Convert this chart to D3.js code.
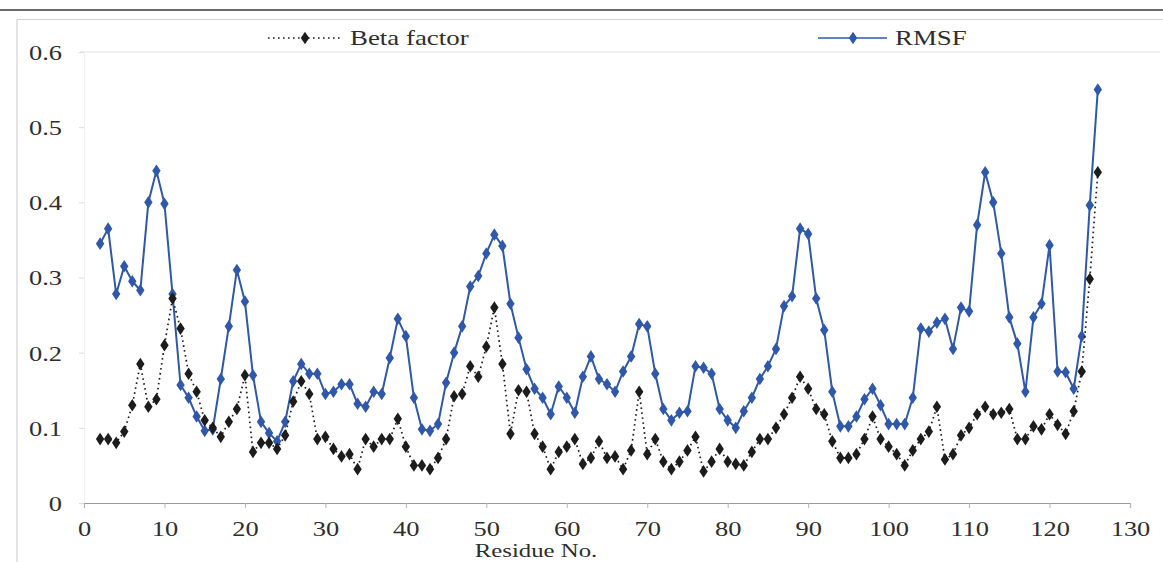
<!DOCTYPE html>
<html>
<head>
<meta charset="utf-8">
<script src="https://cdn.jsdelivr.net/npm/d3@7"></script>
<style>
  html, body { margin: 0; padding: 0; background: #ffffff; }
  svg { display: block; }
  text { font-family: "Liberation Serif", "Times New Roman", serif; fill: #2e2e2e; }
</style>
</head>
<body>
<svg id="chart" width="1163" height="562"></svg>
<script>
// ---- data ----
const residues = [2,3,4,5,6,7,8,9,10,11,12,13,14,15,16,17,18,19,20,21,22,23,24,25,26,27,28,29,30,31,32,33,34,35,36,37,38,39,40,41,42,43,44,45,46,47,48,49,50,51,52,53,54,55,56,57,58,59,60,61,62,63,64,65,66,67,68,69,70,71,72,73,74,75,76,77,78,79,80,81,82,83,84,85,86,87,88,89,90,91,92,93,94,95,96,97,98,99,100,101,102,103,104,105,106,107,108,109,110,111,112,113,114,115,116,117,118,119,120,121,122,123,124,125,126];

const rmsf = [0.345,0.365,0.278,0.315,0.295,0.283,0.400,0.442,0.398,0.278,
  0.157,0.140,0.115,0.096,0.098,0.165,0.235,0.310,0.268,0.170,
  0.108,0.093,0.082,0.108,0.162,0.185,0.172,0.172,0.145,0.148,
  0.158,0.158,0.132,0.128,0.148,0.145,0.193,0.245,0.222,0.140,
  0.098,0.096,0.105,0.160,0.200,0.235,0.288,0.302,0.332,0.357,
  0.342,0.265,0.220,0.178,0.152,0.140,0.118,0.155,0.140,0.120,
  0.168,0.195,0.165,0.158,0.148,0.175,0.195,0.238,0.235,0.172,
  0.125,0.110,0.120,0.122,0.182,0.180,0.172,0.125,0.110,0.100,
  0.122,0.140,0.165,0.182,0.205,0.262,0.275,0.365,0.358,0.272,
  0.230,0.148,0.102,0.102,0.115,0.138,0.152,0.130,0.105,0.105,
  0.105,0.140,0.232,0.228,0.240,0.245,0.205,0.260,0.255,0.370,
  0.440,0.400,0.332,0.247,0.212,0.148,0.247,0.265,0.343,0.175,
  0.174,0.152,0.222,0.396,0.550];

const betaFactor = [0.085,0.085,0.080,0.095,0.130,0.185,0.128,0.138,0.210,0.272,
  0.232,0.172,0.148,0.110,0.100,0.088,0.108,0.125,0.170,0.068,
  0.080,0.080,0.072,0.090,0.135,0.162,0.145,0.085,0.088,0.072,
  0.062,0.065,0.045,0.085,0.075,0.085,0.085,0.112,0.075,0.050,
  0.050,0.045,0.060,0.085,0.142,0.145,0.182,0.168,0.208,0.260,
  0.185,0.092,0.150,0.148,0.092,0.075,0.045,0.068,0.075,0.085,
  0.052,0.060,0.082,0.060,0.062,0.045,0.070,0.148,0.065,0.085,
  0.055,0.045,0.055,0.070,0.088,0.042,0.055,0.072,0.055,0.052,
  0.050,0.068,0.085,0.085,0.100,0.118,0.140,0.168,0.152,0.125,
  0.118,0.082,0.060,0.060,0.065,0.085,0.115,0.085,0.075,0.065,
  0.050,0.070,0.085,0.095,0.128,0.058,0.065,0.090,0.100,0.118,
  0.128,0.118,0.120,0.125,0.085,0.085,0.102,0.098,0.118,0.104,
  0.092,0.122,0.175,0.298,0.440];

const xTicks = [0,10,20,30,40,50,60,70,80,90,100,110,120,130];
const yTicks = [0,0.1,0.2,0.3,0.4,0.5,0.6];
const yTickLabels = ["0","0.1","0.2","0.3","0.4","0.5","0.6"];
const seriesNames = ["Beta factor","RMSF"];
const xTitle = "Residue No.";

// ---- layout ----
const svg = d3.select("#chart");
const W = 1163, H = 562;
const pLeft = 84, pRight = 1130, pTop = 52, pBottom = 503;
const SX = 1.26; // horizontal stretch of the reference typography

const x = d3.scaleLinear().domain([0, 130]).range([pLeft, pRight]);
const y = d3.scaleLinear().domain([0, 0.6]).range([pBottom, pTop]);

const blue = "#3058aa";
const black = "#1c1c1c";

// chart frame
svg.append("rect").attr("width", W).attr("height", H).attr("fill", "#fff");
svg.append("line").attr("x1", 0).attr("x2", W).attr("y1", 10).attr("y2", 10)
  .attr("stroke", "#6a6a6a").attr("stroke-width", 2.2);
svg.append("line").attr("x1", 17).attr("x2", W).attr("y1", 19.5).attr("y2", 19.5)
  .attr("stroke", "#d2d2d2").attr("stroke-width", 1.2);
svg.append("line").attr("x1", 17).attr("x2", 17).attr("y1", 19.5).attr("y2", H)
  .attr("stroke", "#d2d2d2").attr("stroke-width", 1.2);

// top border of plot area
svg.append("line").attr("x1", pLeft - 4).attr("x2", 1160).attr("y1", y(0.6)).attr("y2", y(0.6))
  .attr("stroke", "#e2e2e2").attr("stroke-width", 1.2);

// y axis
const yAxis = svg.append("g").attr("transform", `translate(${pLeft},0)`)
  .call(d3.axisLeft(y).tickValues(yTicks).tickSize(5).tickFormat((d, i) => yTickLabels[i]));
yAxis.select(".domain").attr("stroke", "#eeeeee");
yAxis.selectAll(".tick line").attr("stroke", "#dcdcdc");
yAxis.selectAll(".tick text")
  .attr("x", 0).attr("dy", "0.35em")
  .attr("transform", `translate(-22,0) scale(${SX},1)`)
  .style("font-family", "'Liberation Serif', serif").style("font-size", "21px").attr("fill", "#2e2e2e");

// x axis
const xAxis = svg.append("g").attr("transform", `translate(0,${pBottom})`)
  .call(d3.axisBottom(x).tickValues(xTicks).tickSize(5).tickFormat(d3.format("d")));
xAxis.select(".domain").attr("stroke", "#9a9a9a").attr("stroke-width", 1.2);
xAxis.selectAll(".tick line").attr("stroke", "#b5b5b5");
xAxis.selectAll(".tick text")
  .attr("y", 0).attr("dy", 0)
  .attr("transform", `translate(0,33) scale(${SX},1)`)
  .style("font-family", "'Liberation Serif', serif").style("font-size", "21px").attr("fill", "#2e2e2e");

// x title
svg.append("g").attr("transform", "translate(536,556.5)")
  .append("text").attr("text-anchor", "middle").attr("transform", `scale(1.34,1)`)
  .style("font-size", "18.5px").text(xTitle);

// diamond marker
const diamond = d3.symbol().type(d3.symbolDiamond).size(46)();

const lineGen = (vals) => d3.line().x((d, i) => x(residues[i])).y(d => y(d))(vals);

// RMSF
svg.append("path").attr("d", lineGen(rmsf)).attr("fill", "none")
  .attr("stroke", blue).attr("stroke-width", 2).attr("stroke-linejoin", "round");
svg.append("g").selectAll("path").data(rmsf).join("path")
  .attr("d", diamond)
  .attr("transform", (d, i) => `translate(${x(residues[i])},${y(d)}) scale(1.15,1)`)
  .attr("fill", blue);

// Beta factor
svg.append("path").attr("d", lineGen(betaFactor)).attr("fill", "none")
  .attr("stroke", black).attr("stroke-width", 1.7).attr("stroke-dasharray", "1.6,3.4");
svg.append("g").selectAll("path").data(betaFactor).join("path")
  .attr("d", diamond)
  .attr("transform", (d, i) => `translate(${x(residues[i])},${y(d)}) scale(1.15,1)`)
  .attr("fill", black);

// legend
const legY = 38;
const lg1 = svg.append("g");
lg1.append("line").attr("x1", 268).attr("x2", 340).attr("y1", legY).attr("y2", legY)
  .attr("stroke", black).attr("stroke-width", 1.7).attr("stroke-dasharray", "1.6,3.4");
lg1.append("path").attr("d", diamond).attr("transform", `translate(305,${legY}) scale(1.15,1)`).attr("fill", black);
lg1.append("g").attr("transform", `translate(350,${legY})`).append("text")
  .attr("dy", "0.35em").attr("transform", `scale(1.28,1)`).style("font-size", "21px").text(seriesNames[0]);

const lg2 = svg.append("g");
lg2.append("line").attr("x1", 818).attr("x2", 887).attr("y1", legY).attr("y2", legY)
  .attr("stroke", blue).attr("stroke-width", 1.6);
lg2.append("path").attr("d", diamond).attr("transform", `translate(853,${legY}) scale(1.15,1)`).attr("fill", blue);
lg2.append("g").attr("transform", `translate(895,${legY})`).append("text")
  .attr("dy", "0.35em").attr("transform", `scale(1.28,1)`).style("font-size", "21px").text(seriesNames[1]);
</script>
</body>
</html>
